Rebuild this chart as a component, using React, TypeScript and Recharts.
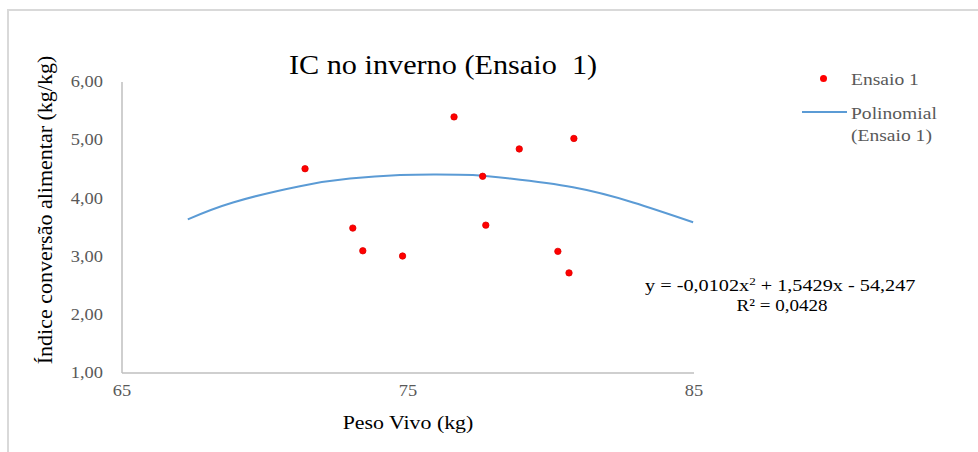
import { ComposedChart, Line, Scatter, XAxis, YAxis } from 'recharts'

// Ensaio 1: peso vivo (kg) x índice de conversão (kg/kg)
const pesoVivo = [71.4, 73.07, 73.42, 74.81, 76.61, 77.61, 77.72, 78.89, 80.24, 80.63, 80.8]
const indiceConversao = [4.51, 3.49, 3.1, 3.01, 5.4, 4.38, 3.54, 4.85, 3.09, 2.72, 5.03]

// trend line (Polinomial)
const trendX = [67.3, 68.88, 71.22, 72.97, 74.72, 76.0, 77.27, 78.57, 80.77, 82.87, 84.97]
const trendY = [3.64, 3.93, 4.21, 4.34, 4.4, 4.41, 4.4, 4.34, 4.19, 3.93, 3.59]

const xTicks = [65, 75, 85]
const yTicks = [1, 2, 3, 4, 5, 6]

const points = pesoVivo.map((x, i) => ({ x, y: indiceConversao[i] }))
const trend = trendX.map((x, i) => ({ x, y: trendY[i] }))

const FONT = '"Liberation Serif", "Times New Roman", serif'
const STRETCH = 1.15
const fmt = (v: number) => v.toFixed(2).replace('.', ',')

function YTick(props: any) {
  const { x, y, payload } = props
  return (
    <text
      transform={`translate(${x},${y}) scale(${STRETCH},1)`}
      textAnchor="end"
      dominantBaseline="central"
      fontFamily={FONT}
      fontSize={16}
      fill="#595959"
    >
      {fmt(payload.value)}
    </text>
  )
}

function XTick(props: any) {
  const { x, y, payload } = props
  return (
    <text
      transform={`translate(${x},${y}) scale(${STRETCH},1)`}
      textAnchor="middle"
      dy="0.71em"
      fontFamily={FONT}
      fontSize={16}
      fill="#595959"
    >
      {payload.value}
    </text>
  )
}

const centered = (left: number, top: number, size: number, extra = ''): React.CSSProperties => ({
  position: 'absolute',
  left,
  top,
  fontSize: size,
  fontFamily: FONT,
  whiteSpace: 'nowrap',
  lineHeight: 1,
  transform: `translate(-50%,-50%) ${extra}`,
})

const leftText = (left: number, top: number, size: number, color: string, s = STRETCH): React.CSSProperties => ({
  position: 'absolute',
  left,
  top,
  fontSize: size,
  fontFamily: FONT,
  color,
  whiteSpace: 'nowrap',
  lineHeight: 1,
  transformOrigin: 'left center',
  transform: `translateY(-50%) scaleX(${s})`,
})

export default function App() {
  return (
    <div style={{ position: 'absolute', left: 0, top: 0, width: 978, height: 452, background: '#fff', overflow: 'hidden' }}>
      <div
        style={{
          position: 'absolute',
          left: 7,
          top: 9,
          width: 1000,
          height: 500,
          borderLeft: '2px solid #d9d9d9',
          borderTop: '2px solid #d9d9d9',
        }}
      />
      <div style={{ position: 'absolute', left: 0, top: 0 }}>
        <ComposedChart width={978} height={452} margin={{ top: 82, right: 284, bottom: 49, left: 0 }}>
          <XAxis
            dataKey="x"
            type="number"
            domain={[65, 85]}
            ticks={xTicks}
            allowDataOverflow
            height={30}
            tickSize={0}
            tickMargin={12}
            tick={<XTick />}
            axisLine={{ stroke: '#bfbfbf', strokeWidth: 1.5 }}
            tickLine={false}
          />
          <YAxis
            dataKey="y"
            type="number"
            domain={[1, 6]}
            ticks={yTicks}
            width={122}
            tickSize={0}
            tickMargin={19}
            tick={<YTick />}
            axisLine={{ stroke: '#bfbfbf', strokeWidth: 1.5 }}
            tickLine={false}
          />
          <Line
            data={trend}
            dataKey="y"
            type="natural"
            stroke="#5b9bd5"
            strokeWidth={2}
            dot={false}
            activeDot={false}
            isAnimationActive={false}
          />
          <Scatter
            data={points}
            dataKey="y"
            fill="#ff0000"
            isAnimationActive={false}
            shape={(p: any) => <circle cx={p.cx} cy={p.cy} r={3.2} fill="#ff0000" stroke="#e00000" strokeWidth={0.8} />}
          />
        </ComposedChart>
      </div>

      <div style={centered(443, 65, 27, `scaleX(1.12)`)}>IC no inverno (Ensaio&nbsp; 1)</div>
      <div style={centered(45, 210, 22, 'rotate(-90deg)')}>Índice conversão alimentar (kg/kg)</div>
      <div style={centered(408, 422, 19, `scaleX(${STRETCH})`)}>Peso Vivo (kg)</div>

      <div
        style={{ position: 'absolute', left: 820, top: 75, width: 7, height: 7, borderRadius: '50%', background: '#ff0000' }}
      />
      <div style={leftText(851, 79, 17, '#595959')}>Ensaio 1</div>
      <div style={{ position: 'absolute', left: 802, top: 111, width: 45, height: 2, background: '#5b9bd5' }} />
      <div style={leftText(851, 113, 17, '#595959')}>Polinomial</div>
      <div style={leftText(851, 135, 17, '#595959')}>(Ensaio 1)</div>

      <div style={leftText(645, 285, 17, '#000', 1.19)}>
        y = -0,0102x<sup style={{ fontSize: 11, verticalAlign: '6px' }}>2</sup> + 1,5429x - 54,247
      </div>
      <div style={centered(782, 305, 17, `scaleX(1.12)`)}>R² = 0,0428</div>
    </div>
  )
}
